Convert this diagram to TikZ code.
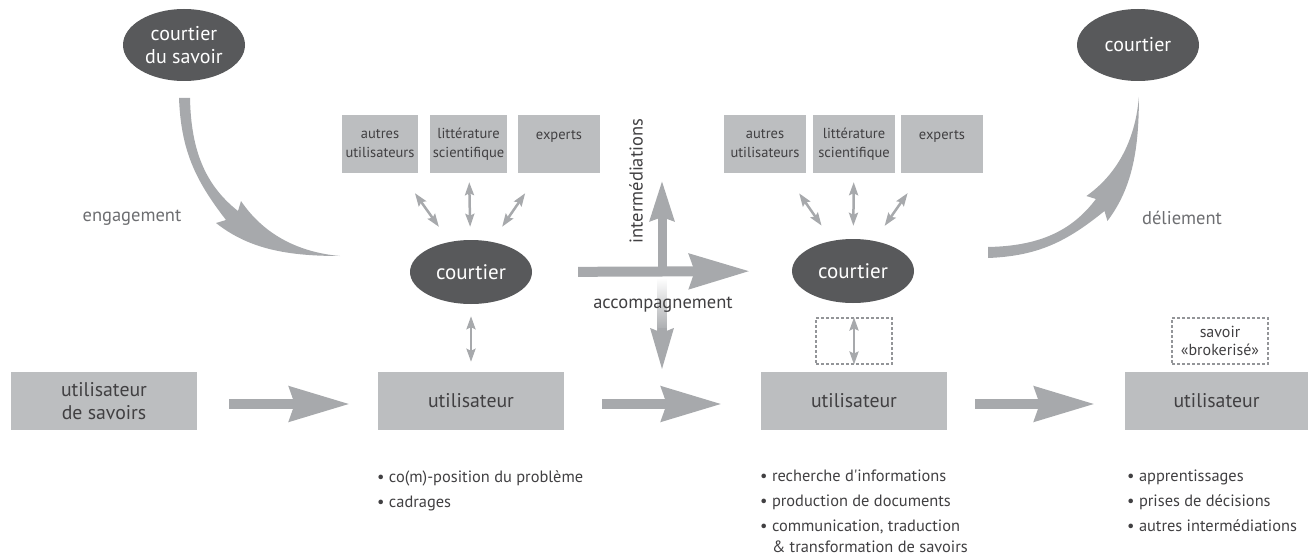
\documentclass[tikz,border=0pt]{standalone}
\usepackage{fontspec}
\setmainfont{PT Sans}
\usetikzlibrary{arrows.meta,shapes.geometric}
\definecolor{brokerc}{HTML}{58595B}
\definecolor{boxc}{HTML}{BCBEC0}
\definecolor{arrowc}{HTML}{A7A9AC}
\definecolor{textc}{HTML}{414042}
\definecolor{labelc}{HTML}{6D6E71}
\definecolor{dashc}{HTML}{939598}

\begin{document}
\begin{tikzpicture}[x=1pt, y=-1pt,
  broker/.style={ellipse, fill=brokerc, text=white, align=center, inner sep=0pt,
    minimum width=122pt, minimum height=64pt, font=\fontsize{21}{24}\selectfont},
  ubox/.style={fill=boxc, text=textc, align=center, inner sep=0pt,
    minimum width=186pt, minimum height=58pt, font=\fontsize{19.8}{23}\selectfont},
  sbox/.style={fill=boxc, text=textc, align=center, inner sep=0pt,
    minimum height=58pt, font=\fontsize{14.5}{19}\selectfont},
  dbox/.style={draw=dashc, dash pattern=on 3pt off 2pt, line width=1.2pt, text=textc,
    align=center, inner sep=0pt, minimum width=76pt, minimum height=46pt,
    font=\fontsize{16}{18}\selectfont},
  flow/.style={arrowc, line width=10pt, -{Stealth[length=60pt, width=34pt, inset=5pt]}},
  link/.style={arrowc, line width=2.5pt,
    {Stealth[length=13pt, width=9pt, inset=2pt]}-{Stealth[length=13pt, width=9pt, inset=2pt]}},
  lbl/.style={text=labelc, font=\fontsize{18.5}{22}\selectfont},
  bul/.style={text=textc, align=left, inner sep=0pt, font=\fontsize{16.4}{21}\selectfont}]
\useasboundingbox (0,0) rectangle (1308,559);

% courtiers
\node[broker, minimum height=72pt, font=\fontsize{20}{23}\selectfont] (cs) at (184,45) {courtier\\du savoir};
\node[broker, minimum height=72pt, font=\fontsize{20}{23}\selectfont] (ct) at (1138,45) {courtier};
\node[broker] (c1) at (471,272) {courtier};
\node[broker] (c2) at (853,271) {courtier};

% sources
\node[sbox, minimum width=76pt] (la) at (380,144) {autres\\utilisateurs};
\node[sbox, minimum width=77pt] (ll) at (468.5,144) {littérature\\scientifique};
\node[sbox, minimum width=82pt] (le) at (559,144) {experts\\\phantom{x}};
\node[sbox, minimum width=82pt] (ra) at (765,144) {autres\\utilisateurs};
\node[sbox, minimum width=82pt] (rl) at (854,144) {littérature\\scientifique};
\node[sbox, minimum width=82pt] (re) at (942,144) {experts\\\phantom{x}};

% utilisateurs
\node[ubox] (u0) at (104,401) {utilisateur\\de savoirs};
\node[ubox] (u1) at (471,401) {utilisateur};
\node[ubox] (u2) at (854,401) {utilisateur};
\node[ubox, minimum width=183pt] (u3) at (1216.5,401) {utilisateur};

\node[dbox] (d1) at (854,341) {};
\node[dbox, minimum width=96pt] (d2) at (1220,341) {savoir\\«brokerisé»};

% engagement / deliement
\fill[arrowc] (179,98) .. controls (181,150) and (195,180) .. (226,220) -- (216,223)
  .. controls (250,250) and (290,256) .. (340,256)
  .. controls (295,252) and (262,232) .. (241,201) -- (238,211)
  .. controls (205,185) and (191,150) .. (190,98) -- cycle;
\fill[arrowc] (988,258) .. controls (1037.7,256) and (1066.3,242) .. (1104.5,211) -- (1107.4,221)
  .. controls (1133.2,187) and (1138.9,147) .. (1138.9,97)
  .. controls (1135.1,142) and (1116,175) .. (1086.4,196) -- (1095.9,199)
  .. controls (1071.1,232) and (1037.7,246) .. (988,247) -- cycle;
\node[lbl] (eng) at (132,218) {engagement};
\node[lbl] (del) at (1182,218) {déliement};

% croix
\coordinate (xup) at (662,180);
\coordinate (xmid) at (662,276);
\coordinate (xdn) at (662,371);
\draw[arrowc, line width=9pt, -{Stealth[length=40pt, width=23pt, inset=3pt]}] (xmid) -- (xup);
\shade[top color=white, bottom color=arrowc] (657.5,278) rectangle (666.5,332);
\draw[arrowc, line width=9pt, -{Stealth[length=41pt, width=21pt, inset=3pt]}] (662,328) -- (xdn);
\draw[flow, shorten <=46pt, shorten >=42pt] (c1.east) -- (c2.west);
\node[lbl, text=textc, rotate=90] (int) at (636,181) {intermédiations};
\node[lbl, text=textc] (acc) at (663,305) {accompagnement};

% liens
\draw[link, shorten <=24.5pt, shorten >=18.4pt] (la) -- (c1);
\draw[link, shorten <=9pt, shorten >=13pt] (ll) -- (c1);
\draw[link, shorten <=24.3pt, shorten >=18.2pt] (le) -- (c1);
\draw[link, shorten <=24.5pt, shorten >=18.4pt] (ra) -- (c2);
\draw[link, shorten <=9pt, shorten >=13pt] (rl) -- (c2);
\draw[link, shorten <=24.3pt, shorten >=18.2pt] (re) -- (c2);
\draw[link, shorten <=12pt, shorten >=10pt] (c1) -- (u1);
\draw[link] (d1.north) -- (d1.south);

\draw[flow, shorten <=32pt, shorten >=28pt] ([yshift=-3pt]u0.east) -- ([yshift=-3pt]u1.west);
\draw[flow, shorten <=38pt, shorten >=39pt] ([yshift=-3pt]u1.east) -- ([yshift=-3pt]u2.west);
\draw[flow, shorten <=28pt, shorten >=30pt] ([yshift=-3pt]u2.east) -- ([yshift=-3pt]u3.west);

% listes
\node[bul, anchor=north west] (b1) at (377,470) {\textbullet\ co(m)-position du problème\\[4pt]
  \textbullet\ cadrages};
\node[bul, anchor=north west] (b2) at (760,470) {\textbullet\ recherche d\textquotesingle informations\\[4pt]
  \textbullet\ production de documents\\[4pt]
  \textbullet\ communication, traduction\\
  \phantom{\textbullet\ }\& transformation de savoirs};
\node[bul, anchor=north west] (b3) at (1127,470) {\textbullet\ apprentissages\\[4pt]
  \textbullet\ prises de décisions\\[4pt]
  \textbullet\ autres intermédiations};
\end{tikzpicture}
\end{document}
